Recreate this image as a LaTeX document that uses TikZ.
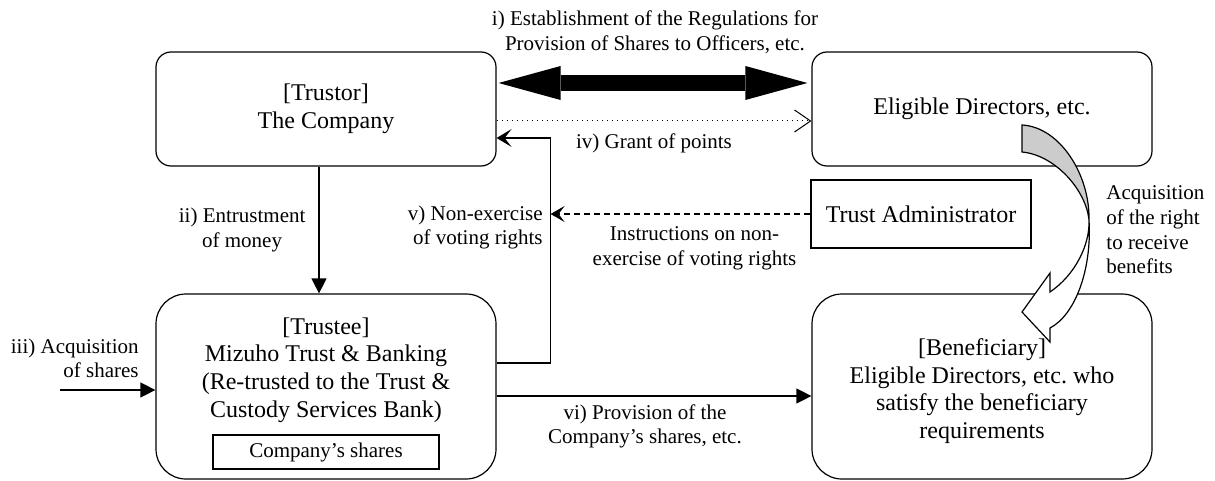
\documentclass[tikz,border=0pt]{standalone}
\usepackage{fontspec}
\setmainfont{Liberation Serif}
\usetikzlibrary{calc, arrows.meta, positioning}
\definecolor{bandgray}{RGB}{204, 204, 204}
\frenchspacing

\begin{document}
\begin{tikzpicture}[
    x=0.5pt, y=-0.5pt,
    font=\fontsize{12}{13.8}\selectfont,
    party/.style={draw, rounded corners=7.5pt, line width=0.6pt, align=center, minimum width=170pt, minimum height=57pt},
    holder/.style={draw, rounded corners=15pt, line width=0.6pt, align=center, minimum width=170pt, minimum height=92.5pt},
    plainbox/.style={draw, line width=0.6pt, align=center},
    lbl/.style={align=center, inner sep=0pt},
    tag/.style={font=\fontsize{10.5}{12.3}\selectfont, align=center},
    arr/.style={-{Triangle[length=7.5pt, width=7.5pt]}, line width=0.6pt},
    backarr/.style={-{Stealth[length=7.5pt, width=9pt, inset=3.5pt]}, line width=0.6pt},
    dotarr/.style={-{Straight Barb[length=8pt, width=11pt]}, line width=0.5pt, dotted},
    dasharr/.style={-{Stealth[length=7pt, width=8pt, inset=3pt]}, line width=0.6pt, dash pattern=on 3pt off 2pt},
    bigarr/.style={{Triangle[length=31pt, width=17pt, line width=0pt]}-{Triangle[length=31pt, width=17pt, line width=0pt]}, line width=8pt}
]
    \useasboundingbox (0,0) rectangle (1215,481);

    \node[party] (trustor) at (326,109) {[Trustor]\\The Company};
    \node[party] (directors) at (982,109) {Eligible Directors, etc.};
    \node[plainbox, minimum width=110pt, minimum height=34pt] (admin) at (921,214) {Trust Administrator};
    \node[holder] (trustee) at (326,386.5) {};
    \node[lbl] (trusteetxt) at (326,370) {[Trustee]\\Mizuho Trust \& Banking\\(Re-trusted to the Trust \&\\Custody Services Bank)};
    \node[plainbox, tag, minimum width=113pt, minimum height=17pt] (shares) at (326,452) {Company’s shares};
    \node[holder] (beneficiary) at (982,386.5) {};
    \node[lbl] (beneficiarytxt) at (982,391) {[Beneficiary]\\Eligible Directors, etc. who\\satisfy the beneficiary\\requirements};

    % i) regulations
    \draw[bigarr] ($(trustor.east)+(2,-26)$) -- ($(directors.west)+(-4,-26)$);
    \node[lbl, tag] (regs) at (655,32) {i) Establishment of the Regulations for\\Provision of Shares to Officers, etc.};

    \draw[dotarr] ($(trustor.east)+(0,12)$) -- node[tag, below, inner sep=6pt] {iv) Grant of points} ($(directors.west)+(0,12)$);

    \draw[arr] ([xshift=-3.5pt]trustor.south) -- node[tag, left, inner sep=6.5pt] {ii) Entrustment\\of money} ([xshift=-3.5pt]trustee.north);

    \coordinate (iiistart) at (60,390);
    \draw[arr] (iiistart) -- (iiistart -| trustee.west);
    \node[lbl, tag, align=right, anchor=east] (iiilbl) at (139,358.5) {iii) Acquisition\\of shares};

    % v) voting rights
    \draw[backarr] ($(trustee.east)+(0,-23.5)$) -- ++(54,0) coordinate (vbot) |- ($(trustor.east)+(0,29)$);
    \node[lbl, tag, align=right, anchor=east] (vlbl) at (543,227.5) {v) Non-exercise\\of voting rights};
    \draw[dasharr] (admin.west) -- node[tag, below, inner sep=6pt, xshift=7pt] {Instructions on non-\\exercise of voting rights} (admin.west -| vbot);

    \draw[arr] ($(trustee.east)+(0,9.5)$) -- node[tag, below, inner sep=4pt, xshift=-4.5pt] {vi) Provision of the\\Company’s shares, etc.} ($(beneficiary.west)+(0,9.5)$);

    % curved block arrow
    \filldraw[fill=white, line width=0.6pt, line join=miter] (1089,220) .. controls (1090,245) and (1075,275) .. (1050,292) -- (1050,273) -- (1022,312) -- (1050,342) -- (1050,328) .. controls (1075,315) and (1092,270) .. (1089,220) -- cycle;
    \filldraw[fill=bandgray, line width=0.6pt] (1022,125) .. controls (1060,127) and (1090,175) .. (1089,220) .. controls (1086,190) and (1055,155) .. (1022,152) -- cycle;
    \node[lbl, tag, align=left, anchor=west] (rightlbl) at (1106,230) {Acquisition\\of the right\\to receive\\benefits};
\end{tikzpicture}
\end{document}
